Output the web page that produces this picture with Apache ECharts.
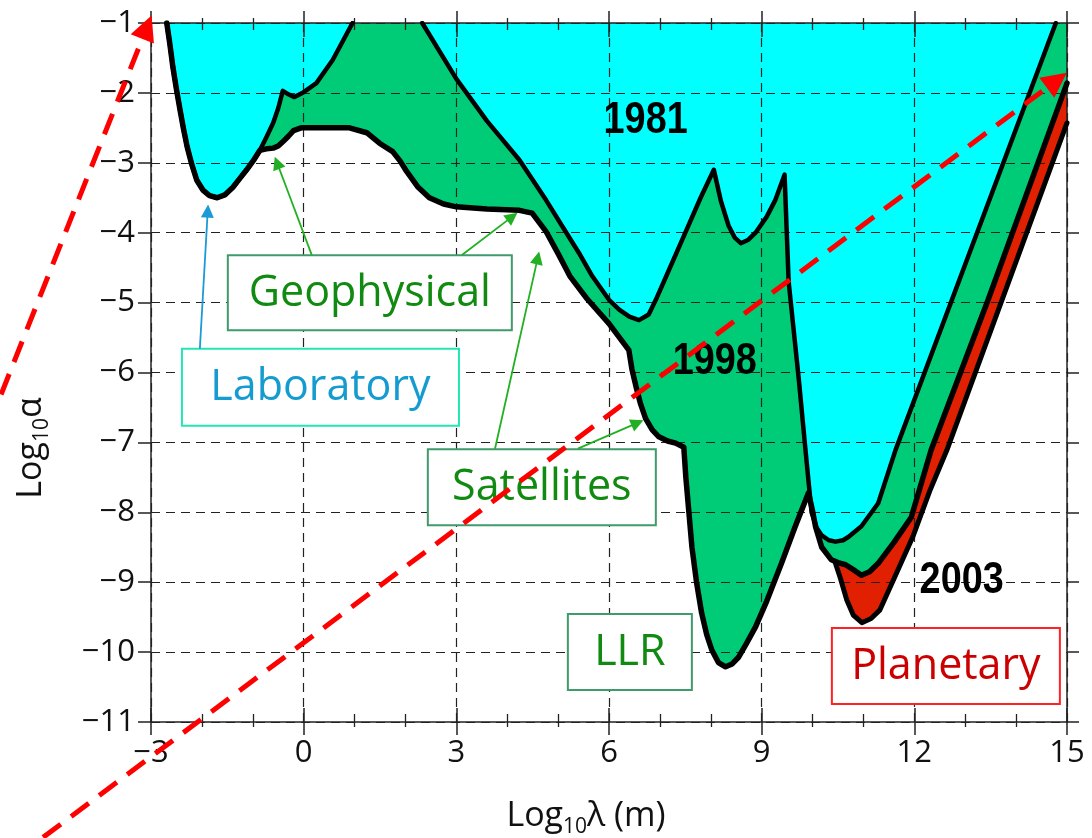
<!DOCTYPE html>
<html><head><meta charset="utf-8">
<script src="https://cdn.jsdelivr.net/npm/echarts@6/dist/echarts.min.js"></script>
<style>html,body{margin:0;padding:0;background:#fff}#c{width:1092px;height:838px}</style>
</head><body><div id="c"></div>
<script>
// ---- data (log10 lambda [m], log10 alpha) ----
const labDip = [[-2.69,-1.0],[-2.63,-1.3],[-2.57,-1.63],[-2.5,-1.95],[-2.43,-2.24],[-2.36,-2.52],[-2.29,-2.77],[-2.2,-3.02],[-2.1,-3.25],[-1.98,-3.39],[-1.85,-3.47],[-1.7,-3.5],[-1.55,-3.46],[-1.39,-3.35],[-1.25,-3.22],[-1.12,-3.1],[-0.99,-2.97],[-0.86,-2.82]];
const c1981Rest = [[-0.73,-2.63],[-0.6,-2.43],[-0.5,-2.22],[-0.41,-1.97],[-0.3,-2.02],[-0.18,-2.06],[0.0,-1.99],[0.25,-1.86],[0.57,-1.53],[0.96,-1.0],[2.33,-1.0],[3.0,-1.8],[3.6,-2.4],[4.24,-2.96],[4.76,-3.53],[5.1,-3.93],[5.41,-4.29],[5.67,-4.62],[6.0,-4.96],[6.2,-5.1],[6.4,-5.2],[6.59,-5.25],[6.78,-5.17],[6.92,-4.96],[7.12,-4.63],[7.5,-4.0],[7.8,-3.5],[8.06,-3.1],[8.2,-3.55],[8.35,-3.9],[8.47,-4.07],[8.59,-4.15],[8.74,-4.1],[8.88,-4.0],[9.1,-3.77],[9.27,-3.53],[9.45,-3.17],[9.53,-4.7],[9.73,-6.1],[9.86,-7.1],[9.98,-8.0],[10.08,-8.22],[10.18,-8.33],[10.32,-8.4],[10.45,-8.42],[10.6,-8.4],[10.71,-8.35],[10.96,-8.2],[11.29,-7.87],[11.63,-7.11],[14.78,-1.0]];
const c1998Rest = [[-0.73,-2.8],[-0.6,-2.79],[-0.5,-2.76],[-0.41,-2.7],[-0.3,-2.62],[-0.2,-2.54],[-0.05,-2.5],[0.9,-2.5],[1.24,-2.57],[1.49,-2.72],[1.75,-2.84],[1.9,-2.98],[2.02,-3.12],[2.25,-3.35],[2.47,-3.5],[2.75,-3.59],[3.0,-3.63],[3.6,-3.66],[4.24,-3.68],[4.49,-3.72],[4.76,-3.98],[5.0,-4.3],[5.23,-4.62],[5.55,-4.93],[6.0,-5.3],[6.39,-5.68],[6.45,-5.95],[6.53,-6.2],[6.62,-6.45],[6.72,-6.66],[6.85,-6.82],[6.98,-6.92],[7.15,-6.98],[7.31,-7.01],[7.47,-7.07],[7.51,-7.5],[7.57,-8.0],[7.63,-8.5],[7.72,-9.0],[7.82,-9.44],[7.92,-9.75],[8.02,-9.97],[8.15,-10.15],[8.29,-10.21],[8.42,-10.17],[8.55,-10.07],[8.7,-9.88],[8.88,-9.64],[9.1,-9.27],[9.39,-8.73],[9.65,-8.22],[9.92,-7.72],[10.0,-7.98],[10.06,-8.21],[10.18,-8.5],[10.37,-8.68],[10.5,-8.72],[10.65,-8.75],[10.8,-8.82],[10.96,-8.9],[11.12,-8.85],[11.29,-8.73],[11.6,-8.43],[11.94,-8.07],[12.33,-7.11],[13.45,-4.96],[15.0,-1.86]];
const c2003 = [[10.45,-8.73],[10.55,-8.95],[10.67,-9.25],[10.8,-9.47],[10.97,-9.58],[11.15,-9.52],[11.32,-9.4],[11.6,-8.95],[11.97,-8.35],[12.3,-7.7],[12.64,-7.11],[15.0,-2.43]];
const c1981 = labDip.concat(c1981Rest);
const c1998 = labDip.concat(c1998Rest);

const yearLabels = ['1981','1998','2003'];
const yearAt = [[6.72,-2.39],[8.08,-5.84],[12.93,-8.98]];
const boxLabels = ['Geophysical','Laboratory','Satellites','LLR','Planetary'];
const boxAt = [[1.30,-4.86],[0.33,-6.21],[4.68,-7.64],[6.41,-10.0],[12.62,-10.2]];
const redArrows = [[[-6.2,-6.78],[-3.08,-1.06]],[[-5.12,-12.65],[14.8,-1.82]]];
const blueArrows = [[[-2.04,-5.66],[-1.885,-3.69]]];
const greenArrows = [[[0.16,-4.32],[-0.523,-3.0]],[[3.11,-4.32],[4.10,-3.77]],[[3.76,-7.09],[4.60,-4.36]],[[5.39,-7.09],[6.56,-6.72]]];

// ---- styles ----
const boxStyle = [
  {w:284,h:75,stroke:'#3f9a6c',fill:'#118a11'},
  {w:277,h:77,stroke:'#22e6b6',fill:'#149bd0'},
  {w:228,h:76,stroke:'#3f9a6c',fill:'#118a11'},
  {w:124,h:76,stroke:'#3f9a6c',fill:'#118a11'},
  {w:228,h:76,stroke:'#ff2222',fill:'#cc0000'}
];
const FONT = '"Open Sans", "DejaVu Sans", sans-serif';
const AX = '#222';
const fmt = v => (v < 0 ? '\u2212' : '') + Math.abs(v);

function splitAtTop(arr){
  const segs=[]; let cur=[];
  for(let i=0;i<arr.length;i++){
    cur.push(arr[i]);
    if(i<arr.length-1 && arr[i][1]===-1 && arr[i+1][1]===-1){ segs.push(cur); cur=[]; }
  }
  segs.push(cur); return segs;
}

function xAx(pos, inside, len, minorLen, extra){
  return Object.assign({
    type:'value', position:pos, min:-3, max:15, interval:3, z:2,
    axisLine:{show:true, onZero:false, lineStyle:{color:AX,width:1.5}},
    axisTick:{show:true, inside:inside, length:len, lineStyle:{color:AX,width:1.5}},
    minorTick:{show:true, splitNumber:3, length:minorLen, lineStyle:{color:AX,width:1.3}},
    axisLabel:{show:false}, splitLine:{show:false}
  }, extra||{});
}

const areaSeries = (data, color, z) => ({
  type:'line', data, showSymbol:false, symbol:'none', z, silent:true,
  lineStyle:{width:0}, areaStyle:{origin:'end', color, opacity:1}
});
const strokeSeries = (data, w) => ({
  type:'line', data, showSymbol:false, symbol:'none', z:3, silent:true,
  lineStyle:{width:w, color:'#000', cap:'round', join:'round'}
});
const arrowSeries = (list, color, width, dash, size, z) => ({
  type:'lines', coordinateSystem:'cartesian2d', polyline:false, clip:false, silent:true, z,
  symbol:['none','triangle'], symbolSize:size,
  lineStyle:{color, width, type:dash, opacity:1, curveness:0},
  data:list.map(c=>({coords:c}))
});

const series = [
  areaSeries(c2003,'#e02000',1),
  areaSeries(c1998,'#00cc77',1),
  areaSeries(c1981,'#00ffff',1),
  ...splitAtTop(c1981).map(s=>strokeSeries(s,4.5)),
  strokeSeries(c1998,5.5),
  strokeSeries(c2003,5),
  arrowSeries(blueArrows,'#1a9ad6',1.8,'solid',13,6),
  arrowSeries(greenArrows,'#22b022',1.8,'solid',13,6),
  arrowSeries(redArrows,'#ff0000',5,[22,13],25,7)
];

const option = {
  animation:false,
  grid:{left:151,right:25,top:23,bottom:116},
  xAxis:[
    xAx('bottom', false, 13, 5, {
      axisLabel:{show:true, fontSize:31, color:'#111', fontFamily:FONT, margin:16, formatter:fmt},
      splitLine:{show:true, lineStyle:{color:AX, type:[9,6], width:1.2}}
    }),
    xAx('bottom', true, 14, 8, {axisLine:{show:false}}),
    xAx('top', true, 14, 7),
    xAx('top', false, 12, 5, {axisLine:{show:false}})
  ],
  yAxis:[
    {type:'value', position:'left', min:-11, max:-1, interval:1, z:2,
     axisLine:{show:true, onZero:false, lineStyle:{color:AX,width:1.5}},
     axisTick:{show:true, length:13, lineStyle:{color:AX,width:1.5}},
     axisLabel:{fontSize:31, color:'#111', fontFamily:FONT, margin:16, formatter:fmt},
     splitLine:{show:true, lineStyle:{color:AX, type:[9,6], width:1.2}}},
    {type:'value', position:'right', min:-11, max:-1, interval:1, z:2,
     axisLine:{show:true, onZero:false, lineStyle:{color:AX,width:1.5}},
     axisTick:{show:true, length:12, lineStyle:{color:AX,width:1.5}},
     axisLabel:{show:false}, splitLine:{show:false}}
  ],
  series
};

const chart = echarts.init(document.getElementById('c'));
chart.setOption(option);
const toPx = p => chart.convertToPixel({seriesIndex:0}, p);

const graphics = [];
yearLabels.forEach((t,i)=>{
  const p = toPx(yearAt[i]);
  graphics.push({type:'text', x:p[0], y:p[1], scaleX:0.84, z:5,
    style:{text:t, fontSize:45, fontWeight:'bold', fontFamily:'"Liberation Sans", Arial, sans-serif', fill:'#000', align:'center', verticalAlign:'middle'}});
});
boxLabels.forEach((t,i)=>{
  const p = toPx(boxAt[i]); const s = boxStyle[i];
  graphics.push({type:'rect', x:p[0], y:p[1], z:5,
    shape:{x:-s.w/2, y:-s.h/2, width:s.w, height:s.h},
    style:{fill:'#fff', stroke:s.stroke, lineWidth:2}});
  graphics.push({type:'text', x:p[0], y:p[1]+1, z:5,
    style:{text:t, fontSize:43, fontFamily:FONT, fill:s.fill, align:'center', verticalAlign:'middle'}});
});
graphics.push({type:'text', x:586, y:816, z:5,
  style:{text:'{a|Log}{s|10}{a|\u03bb (m)}', align:'center', verticalAlign:'middle',
    rich:{a:{fontSize:34, fontFamily:FONT, fill:'#111', lineHeight:44},
          s:{fontSize:21, fontFamily:FONT, fill:'#111', lineHeight:22, verticalAlign:'bottom'}}}});
graphics.push({type:'text', x:31, y:448, rotation:Math.PI/2, z:5,
  style:{text:'{a|Log}{s|10}{a|\u03b1}', align:'center', verticalAlign:'middle',
    rich:{a:{fontSize:34, fontFamily:FONT, fill:'#111', lineHeight:44},
          s:{fontSize:21, fontFamily:FONT, fill:'#111', lineHeight:22, verticalAlign:'bottom'}}}});
chart.setOption({graphic:{elements:graphics}});
</script>
</body></html>
